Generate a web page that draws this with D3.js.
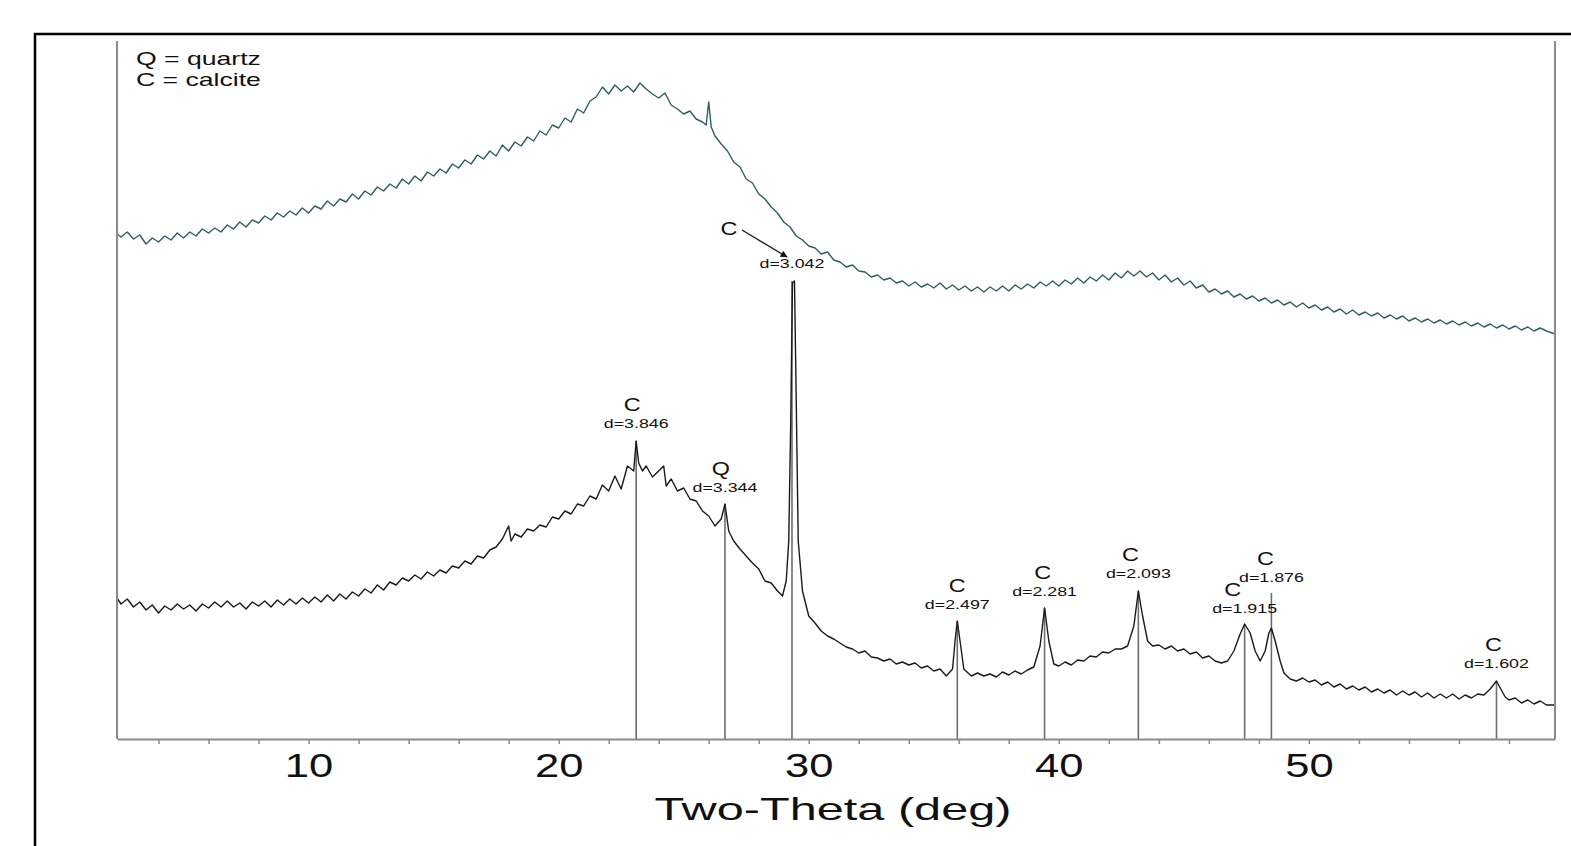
<!DOCTYPE html>
<html>
<head>
<meta charset="utf-8">
<script src="https://cdn.jsdelivr.net/npm/d3@7/dist/d3.min.js"></script>
<style>
    body { margin: 0; background: #fff; }
    svg { display: block; }
    text { font-family: "Liberation Sans", Arial, sans-serif; fill: #111; }
</style>
</head>
<body>
<script>
//wrap everything in a self-executing anonymous function
(function(){

//upper scan (teal), [two-theta, counts]
var upperScan = [
    [2.34,505],[2.5,502],[2.75,507],[3,500],[3.25,504],[3.5,495],[3.75,501],[4,497],[4.25,503],[4.5,499],
    [4.75,506],[5,501],[5.25,507],[5.5,503],[5.75,510],[6,506],[6.25,511],[6.5,507],[6.75,514],[7,510],
    [7.25,517],[7.5,512],[7.75,519],[8,516],[8.25,523],[8.5,519],[8.75,526],[9,522],[9.25,528],[9.5,524],
    [9.75,531],[10,526],[10.25,533],[10.5,530],[10.75,538],[11,533],[11.25,540],[11.5,537],[11.75,545],[12,540],
    [12.25,548],[12.5,544],[12.75,552],[13,548],[13.25,555],[13.5,551],[13.75,560],[14,555],[14.25,563],[14.5,558],
    [14.75,567],[15,563],[15.25,570],[15.5,566],[15.75,575],[16,571],[16.25,579],[16.5,575],[16.75,584],[17,580],
    [17.25,588],[17.5,583],[17.75,594],[18,588],[18.25,597],[18.5,593],[18.75,602],[19,598],[19.25,608],[19.5,604],
    [19.75,614],[20,611],[20.25,621],[20.5,617],[20.75,630],[21,626],[21.25,638],[21.5,642],[21.75,652],[22,645],
    [22.25,654],[22.5,648],[22.75,653],[23,647],[23.25,656],[23.5,650],[23.75,645],[24,641],[24.25,646],[24.5,634],
    [24.75,630],[25,625],[25.25,628],[25.5,620],[25.75,617],[25.9,614],[26,637],[26.1,612],[26.25,603],[26.5,595],
    [26.75,588],[27,577],[27.25,572],[27.5,560],[27.75,556],[28,545],[28.25,540],[28.5,532],[28.75,526],[29,517],
    [29.25,512],[29.5,503],[29.75,499],[30,493],[30.25,491],[30.5,485],[30.75,487],[31,479],[31.25,477],[31.5,472],
    [31.75,474],[32,468],[32.25,467],[32.5,462],[32.75,464],[33,459],[33.25,461],[33.5,456],[33.75,458],[34,453],
    [34.25,457],[34.5,452],[34.75,455],[35,451],[35.25,456],[35.5,450],[35.75,454],[36,449],[36.25,453],[36.5,448],
    [36.75,452],[37,447],[37.25,452],[37.5,448],[37.75,453],[38,448],[38.25,454],[38.5,450],[38.75,455],[39,451],
    [39.25,457],[39.5,453],[39.75,458],[40,453],[40.25,459],[40.5,455],[40.75,461],[41,456],[41.25,462],[41.5,458],
    [41.75,464],[42,459],[42.25,466],[42.5,461],[42.75,468],[43,463],[43.25,468],[43.5,462],[43.75,466],[44,459],
    [44.25,464],[44.5,457],[44.75,461],[45,454],[45.25,458],[45.5,451],[45.75,454],[46,447],[46.25,450],[46.5,445],
    [46.75,448],[47,442],[47.25,445],[47.5,440],[47.75,443],[48,438],[48.25,441],[48.5,436],[48.75,439],[49,434],
    [49.25,437],[49.5,432],[49.75,436],[50,431],[50.25,434],[50.5,429],[50.75,432],[51,427],[51.25,430],[51.5,425],
    [51.75,429],[52,424],[52.25,427],[52.5,423],[52.75,426],[53,421],[53.25,424],[53.5,420],[53.75,423],[54,418],
    [54.25,421],[54.5,417],[54.75,420],[55,416],[55.25,419],[55.5,415],[55.75,418],[56,414],[56.25,417],[56.5,413],
    [56.75,416],[57,412],[57.25,415],[57.5,411],[57.75,414],[58,410],[58.25,413],[58.5,409],[58.75,412],[59,408],
    [59.25,411],[59.5,408],[59.84,405]
];

//lower scan (black), [two-theta, counts]
var lowerScan = [
    [2.34,141],[2.5,135],[2.75,140],[3,132],[3.25,137],[3.5,129],[3.75,134],[4,126],[4.25,133],[4.5,129],
    [4.75,135],[5,130],[5.25,134],[5.5,128],[5.75,135],[6,131],[6.25,137],[6.5,132],[6.75,138],[7,132],
    [7.25,136],[7.5,130],[7.75,137],[8,133],[8.25,138],[8.5,132],[8.75,139],[9,134],[9.25,140],[9.5,135],
    [9.75,141],[10,136],[10.25,142],[10.5,137],[10.75,144],[11,138],[11.25,145],[11.5,140],[11.75,147],[12,143],
    [12.25,150],[12.5,146],[12.75,154],[13,149],[13.25,157],[13.5,154],[13.75,161],[14,158],[14.25,164],[14.5,160],
    [14.75,167],[15,163],[15.25,169],[15.5,166],[15.75,173],[16,171],[16.25,178],[16.5,175],[16.75,183],[17,181],
    [17.25,189],[17.5,192],[17.75,200],[18,213],[18.1,198],[18.25,205],[18.5,202],[18.75,210],[19,208],[19.25,214],
    [19.5,212],[19.75,222],[20,220],[20.25,228],[20.5,225],[20.75,235],[21,233],[21.25,243],[21.5,240],[21.75,254],
    [22,248],[22.25,263],[22.5,250],[22.75,273],[23,268],[23.1,298],[23.2,276],[23.35,268],[23.5,273],[23.75,262],
    [24,268],[24.2,273],[24.3,253],[24.5,260],[24.75,248],[25,251],[25.25,240],[25.5,238],[25.75,228],[26,223],
    [26.25,213],[26.5,220],[26.65,235],[26.8,208],[27,198],[27.25,190],[27.5,183],[27.75,176],[28,170],[28.25,158],
    [28.5,156],[28.75,148],[28.95,143],[29.1,158],[29.2,198],[29.28,318],[29.35,456],[29.43,458],[29.5,338],[29.58,198],
    [29.75,148],[30,123],[30.25,116],[30.5,108],[30.75,103],[31,100],[31.25,96],[31.5,92],[31.75,90],[32,86],
    [32.25,88],[32.5,82],[32.75,81],[33,78],[33.25,80],[33.5,75],[33.75,77],[34,74],[34.25,76],[34.5,71],
    [34.75,73],[35,68],[35.25,70],[35.5,63],[35.75,70],[35.85,98],[35.94,118],[36.05,98],[36.2,70],[36.5,63],
    [36.75,66],[37,63],[37.25,65],[37.5,62],[37.75,67],[38,64],[38.25,68],[38.5,65],[38.75,69],[39,72],
    [39.25,93],[39.43,131],[39.6,98],[39.8,75],[40,73],[40.25,77],[40.5,74],[40.75,79],[41,78],[41.25,83],
    [41.5,82],[41.75,87],[42,86],[42.25,90],[42.5,90],[42.75,93],[43,113],[43.18,148],[43.35,123],[43.55,98],
    [43.75,93],[44,94],[44.25,90],[44.5,93],[44.75,88],[45,90],[45.25,85],[45.5,87],[45.75,81],[46,83],
    [46.25,78],[46.5,76],[46.75,78],[47,88],[47.25,105],[47.43,115],[47.65,106],[47.85,88],[48.05,78],[48.25,88],
    [48.4,106],[48.5,111],[48.65,98],[48.85,78],[49,66],[49.25,60],[49.5,58],[49.75,61],[50,57],[50.25,59],
    [50.5,54],[50.75,57],[51,52],[51.25,55],[51.5,50],[51.75,53],[52,49],[52.25,52],[52.5,47],[52.75,50],
    [53,46],[53.25,49],[53.5,44],[53.75,48],[54,44],[54.25,47],[54.5,42],[54.75,46],[55,41],[55.25,45],
    [55.5,41],[55.75,45],[56,40],[56.25,44],[56.5,41],[56.75,45],[57,44],[57.25,50],[57.5,58],[57.65,51],
    [57.85,42],[58,39],[58.25,41],[58.5,36],[58.75,39],[59,35],[59.25,38],[59.5,34],[59.84,34]
];

//reference peak sticks
var stickAngles = [23.1, 26.65, 29.33, 35.94, 39.43, 43.18, 47.43, 48.5, 57.5];
var stickCounts = [298, 235, 458, 118, 131, 148, 115, 146, 58];

//peak labels
var phaseLetters = ["C", "Q", "C", "C", "C", "C", "C", "C", "C"];
var dSpacings = ["3.846", "3.344", "3.042", "2.497", "2.281", "2.093", "1.915", "1.876", "1.602"];

//axis ticks and text
var majorTicks = [10, 20, 30, 40, 50];
var minorTicks = [4, 6, 8, 12, 14, 16, 18, 22, 24, 26, 28, 32, 34, 36, 38, 42, 44, 46, 48, 52, 54, 56, 58];
var legendLines = ["Q = quartz", "C = calcite"];
var xTitle = "Two-Theta (deg)";

//label placement (layout only): text baseline level in counts, letter x offset
var labelLevel = [311, 247, 471, 130, 143, 161, 126, 157, 71];
var letterShift = [-4, -4, -63, 0, -2, -8, -12, -6, -3];

window.onload = setChart();

function setChart(){
    var width = 1571,
        height = 846;

    var plot = {left: 117, right: 1555, top: 41, bottom: 739};

    var svg = d3.select("body")
        .append("svg")
        .attr("width", width)
        .attr("height", height);

    //outer frame
    svg.append("rect")
        .attr("x", 35)
        .attr("y", 34)
        .attr("width", 1560)
        .attr("height", 840)
        .attr("fill", "none")
        .attr("stroke", "#000")
        .attr("stroke-width", 2.5);

    var x = d3.scaleLinear()
        .domain([2.34, 59.84])
        .range([plot.left, plot.right]);

    var y = d3.scaleLinear()
        .domain([0, 698])
        .range([plot.bottom, plot.top]);

    //sticks under the scans
    svg.selectAll(".stick")
        .data(stickAngles)
        .enter()
        .append("line")
        .attr("class", "stick")
        .attr("x1", function(d){ return x(d); })
        .attr("x2", function(d){ return x(d); })
        .attr("y1", y(0))
        .attr("y2", function(d, i){ return y(stickCounts[i]); })
        .attr("stroke", "#6e6e6e")
        .attr("stroke-width", 1.6);

    var line = d3.line()
        .x(function(d){ return x(d[0]); })
        .y(function(d){ return y(d[1]); });

    svg.append("path")
        .datum(upperScan)
        .attr("d", line)
        .attr("fill", "none")
        .attr("stroke", "#2f5e60")
        .attr("stroke-width", 1.4)
        .attr("stroke-linejoin", "round");

    svg.append("path")
        .datum(lowerScan)
        .attr("d", line)
        .attr("fill", "none")
        .attr("stroke", "#1a1a1a")
        .attr("stroke-width", 1.4)
        .attr("stroke-linejoin", "round");

    //side axes
    svg.append("line")
        .attr("x1", plot.left).attr("x2", plot.left)
        .attr("y1", plot.top).attr("y2", plot.bottom)
        .attr("stroke", "#8a8a8a").attr("stroke-width", 2);
    svg.append("line")
        .attr("x1", plot.right).attr("x2", plot.right)
        .attr("y1", plot.top).attr("y2", plot.bottom)
        .attr("stroke", "#8a8a8a").attr("stroke-width", 2);

    //bottom axis
    var xAxis = d3.axisBottom(x)
        .tickValues(majorTicks.concat(minorTicks))
        .tickSize(5)
        .tickSizeOuter(0)
        .tickFormat(function(d){ return majorTicks.indexOf(d) >= 0 ? d : ""; });

    var axisG = svg.append("g")
        .attr("transform", "translate(0," + plot.bottom + ")")
        .call(xAxis);

    axisG.select(".domain").attr("stroke", "#8a8a8a").attr("stroke-width", 2);
    axisG.selectAll(".tick line").attr("stroke", "#8a8a8a").attr("stroke-width", 1.5);
    axisG.selectAll(".tick text")
        .attr("y", 38)
        .attr("dy", null)
        .attr("fill", "#111")
        .attr("transform", "scale(1.32,1)")
        .style("font-size", "33px")
        .style("font-family", "'Liberation Sans', Arial, sans-serif");

    //axis title
    svg.append("text")
        .attr("x", (plot.left + plot.right) / 2 - 3)
        .attr("y", 820)
        .attr("text-anchor", "middle")
        .attr("textLength", 357)
        .attr("lengthAdjust", "spacingAndGlyphs")
        .style("font-size", "32px")
        .text(xTitle);

    //legend
    svg.selectAll(".legend")
        .data(legendLines)
        .enter()
        .append("text")
        .attr("class", "legend")
        .attr("transform", function(d, i){
            return "translate(136," + (65 + i * 21) + ") scale(1.4,1)";
        })
        .style("font-size", "19px")
        .text(function(d){ return d; });

    setLabels(svg, x, y);
};

//phase letters and d-spacings above each stick
function setLabels(svg, x, y){
    var labels = svg.selectAll(".peakLabel")
        .data(stickAngles)
        .enter()
        .append("g")
        .attr("class", "peakLabel");

    labels.append("text")
        .attr("transform", function(d, i){
            return "translate(" + x(d) + "," + y(labelLevel[i]) + ") scale(1.32,1)";
        })
        .attr("text-anchor", "middle")
        .style("font-size", "13.5px")
        .text(function(d, i){ return "d=" + dSpacings[i]; });

    labels.append("text")
        .attr("transform", function(d, i){
            var up = i == 2 ? 33 : 17;
            return "translate(" + (x(d) + letterShift[i]) + "," + (y(labelLevel[i]) - up) + ") scale(1.3,1)";
        })
        .attr("text-anchor", "middle")
        .style("font-size", "18px")
        .text(function(d, i){ return phaseLetters[i]; });

    //arrow for the main calcite peak
    var ax = x(stickAngles[2]),
        ay = y(labelLevel[2]);

    svg.append("defs").append("marker")
        .attr("id", "head")
        .attr("viewBox", "0 0 10 10")
        .attr("refX", 9).attr("refY", 5)
        .attr("markerWidth", 9).attr("markerHeight", 7)
        .attr("markerUnits", "userSpaceOnUse")
        .attr("orient", "auto")
        .append("path")
        .attr("d", "M0,0L10,5L0,10z")
        .attr("fill", "#111");

    svg.append("line")
        .attr("x1", ax - 50).attr("y1", ay - 38)
        .attr("x2", ax - 5).attr("y2", ay - 11)
        .attr("stroke", "#111")
        .attr("stroke-width", 1.2)
        .attr("marker-end", "url(#head)");
};
})();
</script>
</body>
</html>
